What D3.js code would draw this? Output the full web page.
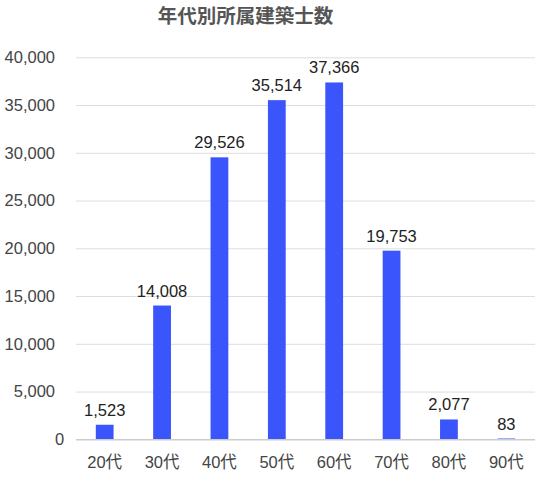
<!DOCTYPE html>
<html><head><meta charset="utf-8">
<script src="https://cdn.jsdelivr.net/npm/d3@7"></script>
<style>body{margin:0;background:#fff}svg{display:block}</style>
</head><body>
<svg id="c" width="544" height="478"></svg>
<script>
const title = "年代別所属建築士数";
const categories = ["20代","30代","40代","50代","60代","70代","80代","90代"];
const values = [1523, 14008, 29526, 35514, 37366, 19753, 2077, 83];
const yTicks = [0, 5000, 10000, 15000, 20000, 25000, 30000, 35000, 40000];

(function () {
const svg = d3.select("#c");
const mLeft = 76, mRight = 535, mTop = 57.3, mBottom = 439.3;
const font = "'Liberation Sans', Arial, sans-serif";

const x = d3.scaleBand().domain(categories).range([mLeft, mRight]).paddingInner(0.69).paddingOuter(0.345);
const y = d3.scaleLinear().domain([0, 40000]).range([mBottom, mTop]);

svg.append("text").attr("x", 245.5).attr("y", 22.5).attr("text-anchor", "middle")
  .attr("font-family", "'Noto Sans CJK JP', sans-serif").attr("font-weight", "bold")
  .attr("font-size", 19.5).attr("fill", "#555").text(title);

const yAxis = d3.axisLeft(y).tickValues(yTicks).tickSize(-(mRight - mLeft)).tickFormat(d3.format(","));
const gy = svg.append("g").attr("transform", `translate(${mLeft},0)`).call(yAxis);
gy.select(".domain").remove();
gy.selectAll(".tick line").attr("stroke", d => d === 0 ? "#ccc" : "#ddd").attr("stroke-width", d => d === 0 ? 1.5 : 1);
gy.selectAll(".tick text").attr("x", -21).attr("font-family", font).attr("font-size", 16.5).attr("fill", "#444");

const xAxis = d3.axisBottom(x).tickSize(0);
const gx = svg.append("g").attr("transform", `translate(0,${mBottom})`).call(xAxis);
gx.select(".domain").remove();
gx.selectAll(".tick text").attr("y", 17).attr("font-family", "'Liberation Sans','Noto Sans CJK JP', sans-serif")
  .attr("font-size", 16.5).attr("fill", "#444");

svg.append("g").selectAll("rect").data(values).join("rect")
  .attr("x", (d, i) => x(categories[i])).attr("width", x.bandwidth())
  .attr("y", d => y(d)).attr("height", d => mBottom - y(d)).attr("fill", "#3b55fd");

// baseline drawn over the bars
const gBase = svg.append("g").attr("transform", `translate(${mLeft},0)`);
gy.selectAll(".tick").filter(d => d === 0).each(function () { gBase.node().appendChild(this); });

svg.append("g").selectAll("text").data(values).join("text")
  .attr("x", (d, i) => x(categories[i]) + x.bandwidth() / 2).attr("y", d => y(d) - 9)
  .attr("text-anchor", "middle").attr("font-family", font).attr("font-size", 16.5).attr("fill", "#222")
  .text(d => d3.format(",")(d));
})();
</script>
</body></html>
